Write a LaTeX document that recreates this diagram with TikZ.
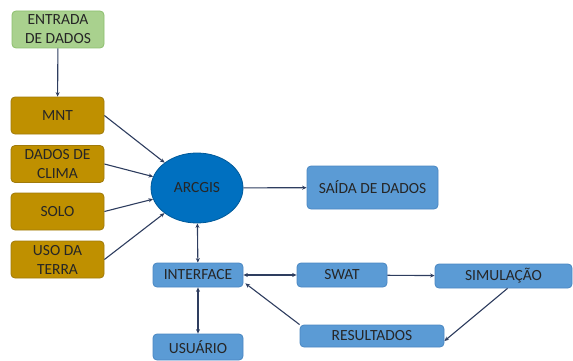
\documentclass[tikz,border=0pt]{standalone}
\usepackage{fontspec}
\setmainfont{Carlito}
\usepackage{xcolor}
\usepackage{tikz}
\usetikzlibrary{arrows.meta, shapes.geometric}

\definecolor{entradaverde}{HTML}{A9D18E}
\definecolor{entradaborda}{HTML}{8CBF6E}
\definecolor{ocre}{HTML}{BF9000}
\definecolor{ocreborda}{HTML}{A07A0A}
\definecolor{azulcaixa}{HTML}{5B9BD5}
\definecolor{azulborda}{HTML}{4A87C2}
\definecolor{azularc}{HTML}{0070C0}
\definecolor{seta}{HTML}{2E3D5F}

\begin{document}
\begin{tikzpicture}[x=1pt, y=-1pt,
  caixa/.style={draw, rounded corners=4pt, line width=0.8pt, inner sep=0pt,
    align=center, text=black!85, font=\fontsize{15.5}{19}\selectfont},
  entrada/.style={caixa, fill=entradaverde, draw=entradaborda,
    minimum width=92pt, minimum height=37pt},
  camada/.style={caixa, fill=ocre, draw=ocreborda,
    minimum width=93pt, minimum height=37pt},
  modulo/.style={caixa, fill=azulcaixa, draw=azulborda,
    minimum height=24pt},
  liga/.style={draw=seta, line width=1.1pt, -{Stealth[length=4.5pt,width=4pt]}},
  ligadupla/.style={liga, {Stealth[length=4.5pt,width=4pt]}-{Stealth[length=4.5pt,width=4pt]}}]
\useasboundingbox (0,0) rectangle (573,361);
% entradas
\node [entrada] (entrada) at (58,29.5) {ENTRADA\\DE DADOS};
\node [camada] (mnt) at (57.5,115.5) {MNT};
\node [camada] (clima) at (57.5,164) {DADOS DE\\CLIMA};
\node [camada] (solo) at (57.5,211.5) {SOLO};
\node [camada] (uso) at (57.5,259.5) {USO DA\\TERRA};
% nucleo
\node [ellipse, draw=azularc!80!black, fill=azularc, line width=0.8pt,
  minimum width=92pt, minimum height=70pt, inner sep=0pt,
  text=black!85, font=\fontsize{15.5}{19}\selectfont] (arcgis) at (197,188) {ARCGIS};
\node [modulo, minimum width=131pt, minimum height=43pt] (saida) at (372.5,187.5) {SAÍDA DE DADOS};
% modulos
\node [modulo, minimum width=90pt] (interface) at (198,275) {INTERFACE};
\node [modulo, minimum width=90pt] (swat) at (342,275) {SWAT};
\node [modulo, minimum width=137pt] (simulacao) at (503.5,276) {SIMULAÇÃO};
\node [modulo, minimum width=90pt, minimum height=26pt] (usuario) at (198,347) {USUÁRIO};
\node [modulo, minimum width=144pt, minimum height=22pt] (resultados) at (372,336) {RESULTADOS};
% ligacoes
\draw [liga] (entrada) -- (mnt);
\draw [liga] (mnt.east) -- (arcgis);
\draw [liga] (clima.east) -- (arcgis);
\draw [liga] (solo.east) -- (arcgis);
\draw [liga] (uso.east) -- (arcgis);
\draw [liga] (arcgis) -- (saida);
\draw [ligadupla] (arcgis) -- (interface);
\draw [ligadupla] (interface) -- (swat);
\draw [liga] (swat) -- (simulacao);
\draw [liga] ([xshift=4pt]simulacao.south) -- ([yshift=-5pt]resultados.east);
\draw [liga] (resultados.north west) -- ([shift={(2pt,4pt)}]interface.south east);
\draw [ligadupla] (interface) -- (usuario);
\end{tikzpicture}
\end{document}
